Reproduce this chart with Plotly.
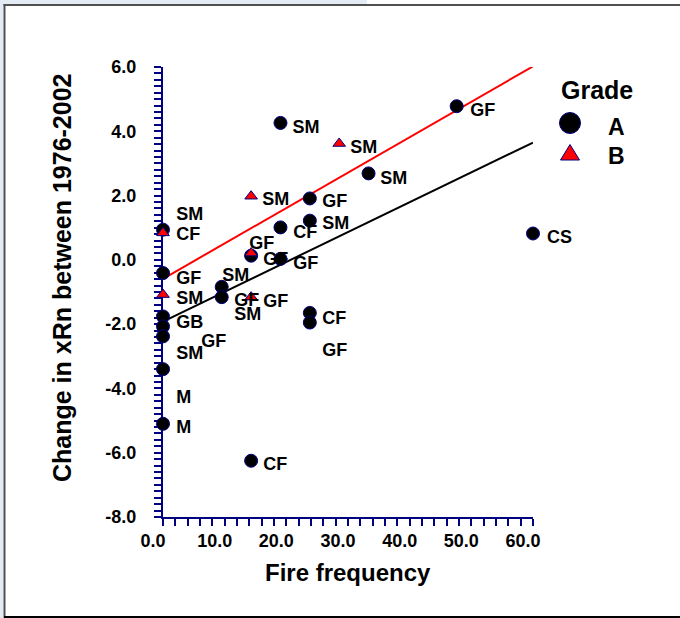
import plotly.graph_objects as go

# ---------------- data ----------------
# Grade A (circles)
a_x = [47.62, 19.05, 33.33, 23.81, 23.81, 19.05, 0.0, 14.29, 19.05, 0.0, 9.52, 9.52,
       0.0, 0.0, 0.0, 23.81, 23.81, 0.0, 0.0, 14.29, 60.0]
a_y = [4.78, 4.26, 2.69, 1.91, 1.22, 1.01, 0.94, 0.13, 0.03, -0.41, -0.84, -1.16,
       -1.76, -2.07, -2.38, -1.65, -1.95, -3.40, -5.10, -6.25, 0.82]
# Grade B (triangles)
b_x = [28.57, 14.29, 0.0, 14.29, 0.0, 14.29]
b_y = [3.62, 1.98, 0.84, 0.21, -1.08, -1.16]

# regression lines
fit_x = [0.0, 60.0]
fit_a = [-1.92, 3.65]
fit_b = [-0.59, 6.02]

# site labels (text placed at these data positions, left-anchored)
lab_text = ["SM", "SM", "SM", "SM", "GF", "SM", "CF", "SM", "CF", "GF", "GF", "GF",
            "GF", "SM", "SM", "GF", "GF", "SM", "GB", "CF", "GF", "SM", "GF", "M",
            "M", "CF", "GF"]
lab_x = [20.99, 30.37, 35.24, 16.10, 25.83, 25.83, 21.13, 2.16, 2.16, 13.99, 16.26, 21.13,
         2.16, 9.62, 2.16, 11.56, 16.26, 11.56, 2.16, 25.83, 25.83, 2.16, 6.21, 2.16,
         2.16, 16.26, 49.83]
lab_y = [4.10, 3.45, 2.51, 1.86, 1.77, 1.11, 0.83, 1.39, 0.77, 0.49, -0.01, -0.14,
         -0.60, -0.51, -1.23, -1.29, -1.32, -1.74, -1.97, -1.85, -2.85, -2.94, -2.57, -4.31,
         -5.25, -6.40, 4.63]
# label of the point at the right edge of the axis (x = 60)
edge_lab_text = "CS"
edge_lab_x = 60.0
edge_lab_y = 0.72

x_tick_vals = [0, 10, 20, 30, 40, 50, 60]
x_tick_text = ["0.0", "10.0", "20.0", "30.0", "40.0", "50.0", "60.0"]
y_tick_vals = [-8, -6, -4, -2, 0, 2, 4, 6]
y_tick_text = ["-8.0", "-6.0", "-4.0", "-2.0", "0.0", "2.0", "4.0", "6.0"]

# ---------------- layout helpers ----------------
W_FIG, H_FIG = 680, 618
L, T, W, H = 163, 67, 370, 450
R = W_FIG - L - W
B = H_FIG - T - H


def X(px):
    return (px - L) / W


def Y(py):
    return (T + H - py) / H


NAVY = "#000080"
FONT = "Liberation Sans"
LAB_FONT = dict(family=FONT, size=18, color="black", weight="bold")

fig = go.Figure()

fig.add_trace(go.Scatter(x=fit_x, y=fit_a, mode="lines",
                         line=dict(color="black", width=2), showlegend=False,
                         hoverinfo="skip"))
fig.add_trace(go.Scatter(x=fit_x, y=fit_b, mode="lines",
                         line=dict(color="#ff0000", width=2), showlegend=False,
                         hoverinfo="skip"))
fig.add_trace(go.Scatter(x=a_x, y=a_y, mode="markers", name="A",
                         marker=dict(symbol="circle", size=13, color="black",
                                     line=dict(color=NAVY, width=1)),
                         cliponaxis=False, showlegend=False))
fig.add_trace(go.Scatter(x=b_x, y=b_y, mode="markers", name="B",
                         marker=dict(symbol="triangle-up", size=11, color="#ff0000",
                                     line=dict(color=NAVY, width=1)),
                         cliponaxis=False, showlegend=False))
fig.add_trace(go.Scatter(x=lab_x, y=lab_y, mode="text", text=lab_text,
                         textposition="middle right", textfont=LAB_FONT,
                         cliponaxis=False, showlegend=False, hoverinfo="skip"))

axis_common = dict(showline=True, linecolor=NAVY, linewidth=2, ticks="outside",
                   ticklen=7, tickwidth=2, tickcolor=NAVY, showgrid=False,
                   zeroline=False, layer="below traces", automargin=False,
                   tickfont=dict(family=FONT, size=18, color="black", weight="bold"))

fig.update_xaxes(range=[0, 60], tickmode="array", tickvals=x_tick_vals,
                 ticktext=x_tick_text, ticklabelshift=-10, ticklabelstandoff=-1,
                 minor=dict(tickmode="linear", tick0=0, dtick=2, ticks="outside",
                            ticklen=7, tickwidth=1.5, tickcolor=NAVY),
                 **axis_common)
fig.update_yaxes(range=[-8, 6], tickmode="array", tickvals=y_tick_vals,
                 ticktext=y_tick_text, ticklabelstandoff=14,
                 minor=dict(tickmode="linear", tick0=0, dtick=0.2, ticks="outside",
                            ticklen=7, tickwidth=1.5, tickcolor=NAVY),
                 **axis_common)

shapes = [
    # light blue strips of the window frame
    dict(type="rect", xref="paper", yref="paper", x0=X(0), x1=X(367), y0=Y(0), y1=Y(4),
         fillcolor="#e3ebf5", line=dict(width=0), layer="above"),
    dict(type="rect", xref="paper", yref="paper", x0=X(0), x1=X(3.5), y0=Y(0), y1=Y(618),
         fillcolor="#e3ebf5", line=dict(width=0), layer="above"),
    # dark frame lines
    dict(type="line", xref="paper", yref="paper", x0=X(3.5), x1=X(680), y0=Y(5), y1=Y(5),
         line=dict(color="#505050", width=2), layer="above"),
    dict(type="line", xref="paper", yref="paper", x0=X(4.5), x1=X(4.5), y0=Y(4), y1=Y(618),
         line=dict(color="#505050", width=2), layer="above"),
    dict(type="line", xref="paper", yref="paper", x0=X(4), x1=X(680), y0=Y(617), y1=Y(617),
         line=dict(color="black", width=2), layer="above"),
    # legend symbols
    dict(type="circle", xref="paper", yref="paper", x0=X(559.5), x1=X(580.5),
         y0=Y(133.5), y1=Y(112.5), fillcolor="black", line=dict(color=NAVY, width=1)),
    dict(type="path", xref="paper", yref="paper",
         path=f"M {X(570)} {Y(144.5)} L {X(560.5)} {Y(160)} L {X(579.5)} {Y(160)} Z",
         fillcolor="#ff0000", line=dict(color=NAVY, width=1)),
]

annotations = [
    dict(text=edge_lab_text, xref="x", yref="y", x=edge_lab_x, y=edge_lab_y,
         xshift=12, showarrow=False, xanchor="left", yanchor="middle", font=LAB_FONT),
    dict(text="Change in xRn between 1976-2002", xref="paper", yref="paper",
         x=X(62), y=Y(278), textangle=-90, showarrow=False, xanchor="center",
         yanchor="middle", font=dict(family=FONT, size=25, color="black", weight="bold")),
    dict(text="Fire frequency", xref="paper", yref="paper", x=X(347.5), y=Y(572),
         showarrow=False, xanchor="center", yanchor="middle",
         font=dict(family=FONT, size=24, color="black", weight="bold")),
    dict(text="Grade", xref="paper", yref="paper", x=X(559), y=Y(90), showarrow=False,
         xanchor="left", yanchor="middle",
         font=dict(family=FONT, size=25, color="black", weight="bold")),
    dict(text="A", xref="paper", yref="paper", x=X(616.5), y=Y(127), showarrow=False,
         xanchor="center", yanchor="middle",
         font=dict(family=FONT, size=23, color="black", weight="bold")),
    dict(text="B", xref="paper", yref="paper", x=X(616.5), y=Y(155.5), showarrow=False,
         xanchor="center", yanchor="middle",
         font=dict(family=FONT, size=23, color="black", weight="bold")),
]

fig.update_layout(width=W_FIG, height=H_FIG, autosize=False,
                  margin=dict(l=L, r=R, t=T, b=B, pad=0),
                  paper_bgcolor="white", plot_bgcolor="white",
                  shapes=shapes, annotations=annotations, showlegend=False,
                  font=dict(family=FONT, color="black"))

fig.write_html("out.html", config={"displayModeBar": False},
               post_script="document.body.style.margin='0';document.body.style.overflow='hidden';")
